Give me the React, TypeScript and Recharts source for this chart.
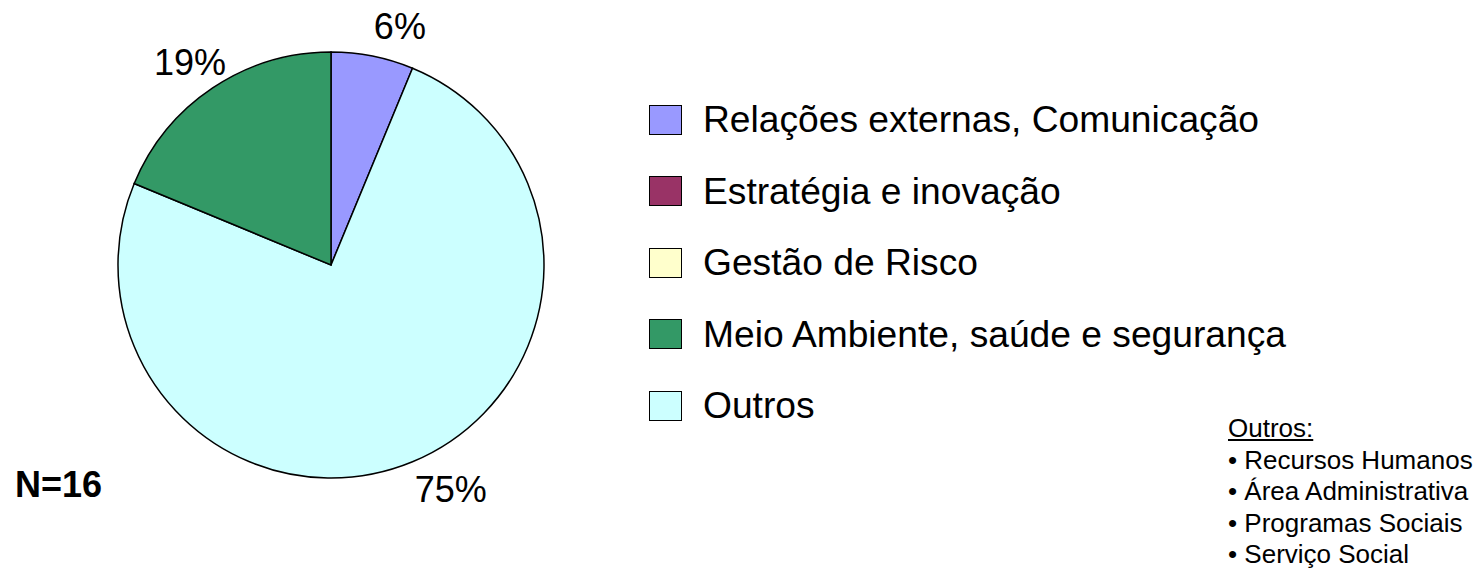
import { PieChart, Pie, Cell, Legend } from "recharts";

const categories = [
  "Relações externas, Comunicação",
  "Estratégia e inovação",
  "Gestão de Risco",
  "Meio Ambiente, saúde e segurança",
  "Outros",
];
const counts = [1, 0, 0, 3, 12];
const colors = ["#9999FF", "#993366", "#FFFFCC", "#339966", "#CCFFFF"];
// slice order around the pie, clockwise from 12 o'clock
const pieOrder = [1, 2, 0, 4, 3];
const total = 16;
const outrosList = ["Recursos Humanos", "Área Administrativa", "Programas Sociais", "Serviço Social"];

const font = "'Liberation Sans', Arial, sans-serif";

const pieData = pieOrder.map((i) => ({
  name: categories[i],
  value: counts[i],
  color: colors[i],
}));

const RAD = Math.PI / 180;

const renderLabel = ({ cx, cy, midAngle, outerRadius, value }: any) => {
  if (!value) return null;
  const r = outerRadius + 30;
  const cos = Math.cos(-midAngle * RAD);
  const sin = Math.sin(-midAngle * RAD);
  const x = cx + r * cos + (cos >= 0 ? 28 * cos + 16 : -6);
  const y = cy + r * sin;
  return (
    <text
      x={x}
      y={y}
      fill="#000"
      fontSize={36}
      fontFamily={font}
      textAnchor="middle"
      dominantBaseline="central"
    >
      {Math.round((value / total) * 100)}%
    </text>
  );
};

const LegendContent = () => (
  <div style={{ fontFamily: font }}>
    {categories.map((c, i) => (
      <div key={c} style={{ display: "flex", alignItems: "center", height: 71.5 }}>
        <div
          style={{
            width: 31,
            height: 28,
            background: colors[i],
            border: "1.5px solid #000",
            marginRight: 21,
          }}
        />
        <span style={{ fontSize: 37.2, color: "#000", whiteSpace: "nowrap" }}>{c}</span>
      </div>
    ))}
  </div>
);

export default function App() {
  return (
    <div style={{ position: "absolute", left: 0, top: 0, width: 1484, height: 570, background: "#fff" }}>
      <PieChart width={1484} height={570} margin={{ top: 0, right: 0, bottom: 0, left: 0 }}>
        <Pie
          data={pieData}
          dataKey="value"
          nameKey="name"
          cx={331}
          cy={265}
          outerRadius={213}
          startAngle={90}
          endAngle={-270}
          stroke="#000"
          strokeWidth={1.5}
          label={renderLabel}
          labelLine={false}
          isAnimationActive={false}
        >
          {pieData.map((d) => (
            <Cell key={d.name} fill={d.color} />
          ))}
        </Pie>
        <Legend
          content={<LegendContent />}
          layout="vertical"
          wrapperStyle={{ position: "absolute", left: 649, top: 84, width: 700 }}
        />
      </PieChart>
      <div
        style={{
          position: "absolute",
          left: 15,
          top: 464,
          fontFamily: font,
          fontWeight: "bold",
          fontSize: 36,
          color: "#000",
        }}
      >
        N={total}
      </div>
      <div
        style={{
          position: "absolute",
          left: 1228,
          top: 413,
          fontFamily: font,
          fontSize: 26,
          lineHeight: "31.5px",
          color: "#000",
          whiteSpace: "nowrap",
        }}
      >
        <div style={{ textDecoration: "underline" }}>Outros:</div>
        {outrosList.map((o) => (
          <div key={o}>• {o}</div>
        ))}
      </div>
    </div>
  );
}
